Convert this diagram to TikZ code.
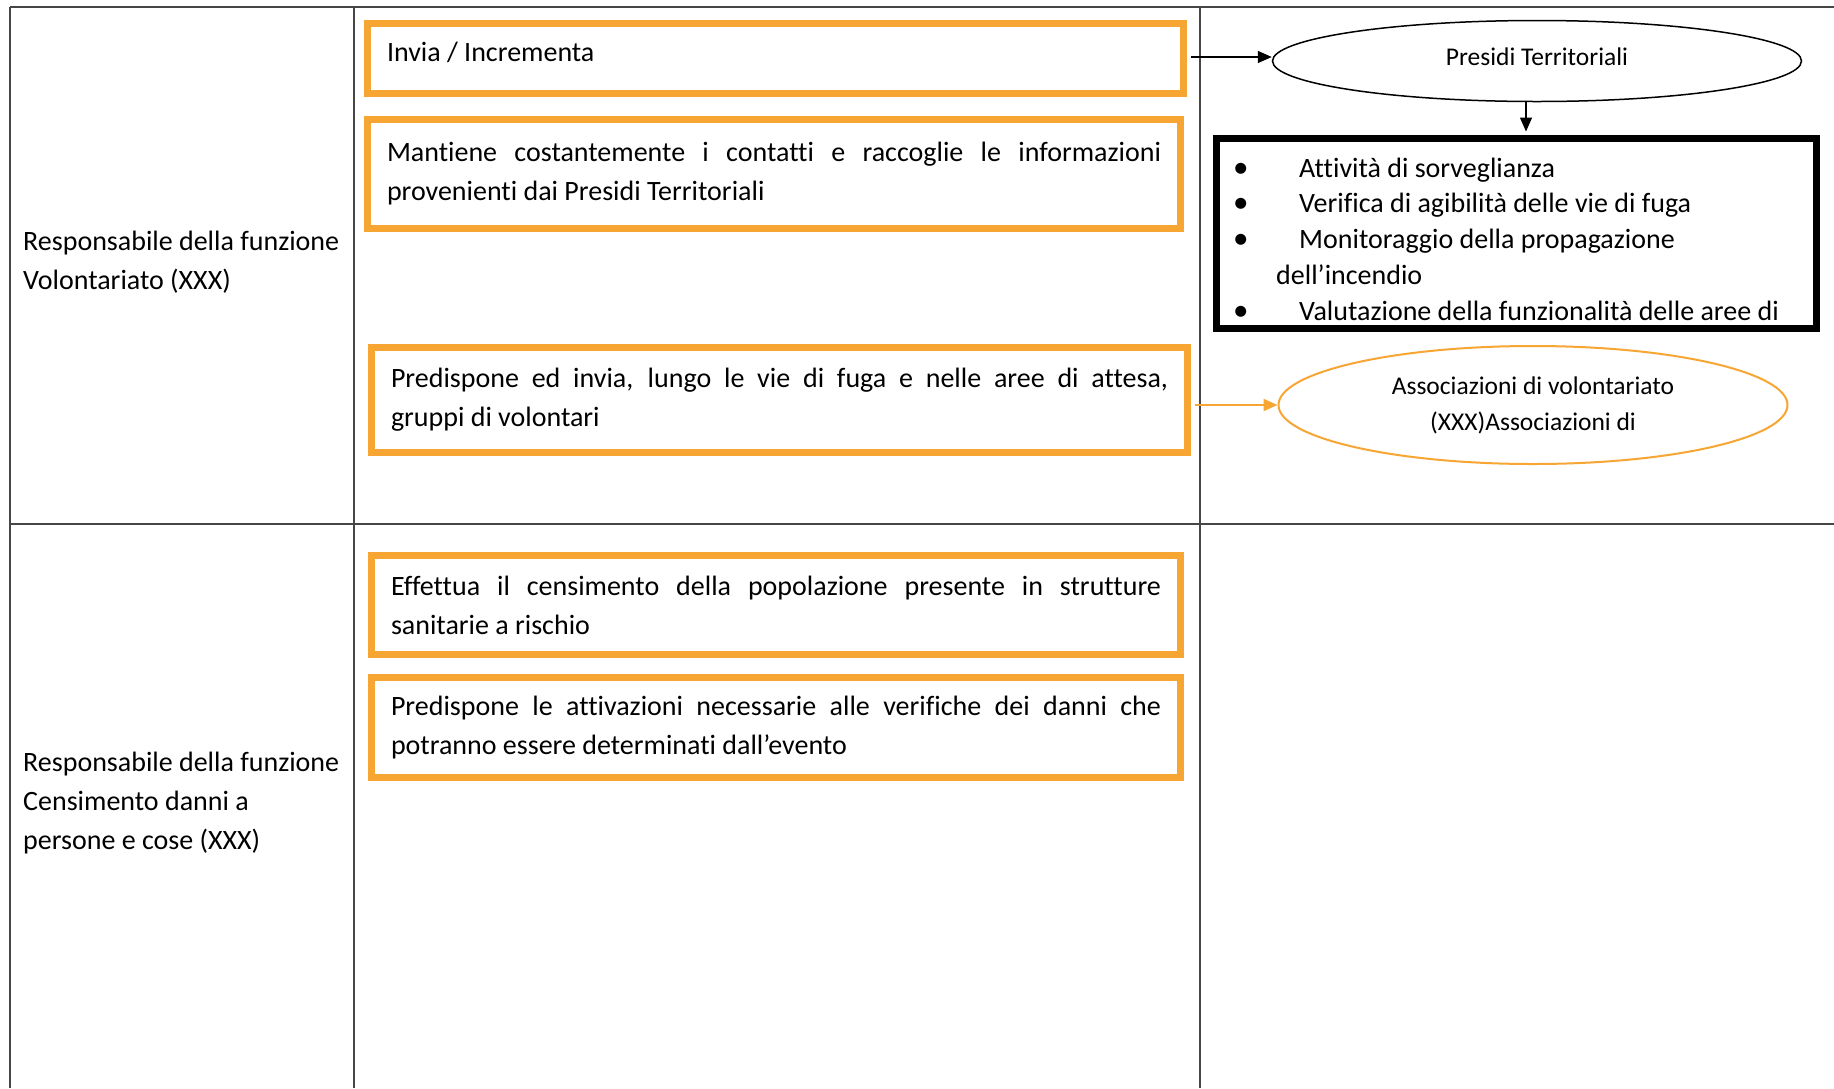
\documentclass[tikz,border=0pt]{standalone}
\usepackage{fontspec}
\setmainfont[Ligatures=NoCommon]{Carlito}
\usetikzlibrary{arrows.meta,shapes.geometric}
\definecolor{boxorange}{RGB}{248,166,51}
\definecolor{gridline}{RGB}{70,70,70}
\newcommand\itemdot{\makebox[63pt][l]{\hspace{-3pt}{\fontsize{31}{31}\selectfont•}}}

\begin{document}
\begin{tikzpicture}[x=1pt,y=-1pt,
  bodytext/.style={font=\fontsize{28}{39}\selectfont},
  taskbox/.style={bodytext, draw=boxorange, line width=7pt, inner xsep=19.5pt,
    inner ysep=0pt, align=justify},
  rolelabel/.style={bodytext, inner sep=0pt, align=left, anchor=west},
  smalltext/.style={font=\fontsize{25.5}{36}\selectfont},
  tablerule/.style={draw=gridline, line width=1.5pt},
  arrowtip/.style={-{Triangle[length=14pt,width=12pt]}}]

% page and table grid
\fill[white] (0,0) rectangle (1834,1088);
\useasboundingbox (0,0) rectangle (1834,1088);
\draw[tablerule] (10,7) -- (1834,7);
\draw[tablerule] (10,524) -- (1834,524);
\draw[tablerule] (10,7) -- (10,1088);
\draw[tablerule] (354,7) -- (354,1088);
\draw[tablerule] (1200,7) -- (1200,1088);

% role column
\node[rolelabel] (role1) at (23,262) {Responsabile della funzione\\Volontariato (XXX)};
\node[rolelabel] (role2) at (23,803) {Responsabile della funzione\\Censimento danni a\\persone e cose (XXX)};

% task boxes
\node[taskbox, text width=777pt, minimum height=70pt] (b1) at (775.5,58.5)
  {\smash{\raisebox{-3pt}{Invia / Incrementa}}};
\node[taskbox, text width=774pt, minimum height=109pt] (b2) at (774,174)
  {Mantiene costantemente i contatti e raccoglie le informazioni\linebreak provenienti dai Presidi Territoriali};
\node[taskbox, text width=777pt, minimum height=105pt] (b3) at (779.5,400)
  {Predispone ed invia, lungo le vie di fuga e nelle aree di attesa,\linebreak gruppi di volontari};
\node[taskbox, text width=770pt, minimum height=99pt] (b4) at (776,605)
  {Effettua il censimento della popolazione presente in strutture\linebreak sanitarie a rischio};
\node[taskbox, text width=770pt, minimum height=100pt] (b5) at (776,727.5)
  {Predispone le attivazioni necessarie alle verifiche dei danni che\linebreak potranno essere determinati dall’evento};

% right column
\node[smalltext, draw=black, line width=1.5pt, ellipse, inner sep=0pt,
  minimum width=529pt, minimum height=81pt, text height=18pt, text depth=9pt]
  (pres) at (1537,61) {Presidi Territoriali};
\node[draw=black, line width=7pt, minimum width=600pt, minimum height=190pt,
  inner sep=0pt] (att) at (1516.5,233.5) {};
\node[bodytext, inner sep=0pt, align=left, anchor=west, font=\fontsize{28}{35.75}\selectfont]
  (attlist) at (1236,239)
  {\itemdot Attività di sorveglianza\\
   \itemdot Verifica di agibilità delle vie di fuga\\
   \itemdot Monitoraggio della propagazione\\
   \hspace*{40pt}dell’incendio\\
   \itemdot Valutazione della funzionalità delle aree di};
\node[smalltext, draw=boxorange, line width=2pt, ellipse, inner sep=0pt, align=center,
  minimum width=509pt, minimum height=118pt]
  (assoc) at (1533,405) {Associazioni di volontariato\\(XXX)Associazioni di};

% connectors
\draw[black, line width=1.5pt, arrowtip] ([xshift=3.5pt]b1.east |- 0,57) -- (pres.west |- 0,57);
\draw[black, line width=1.5pt, arrowtip, shorten >=3.5pt]
  ([xshift=-11pt]pres.south) -- ([xshift=-11pt]pres.south |- att.north);
\draw[boxorange, line width=2pt, arrowtip] ([xshift=3.5pt]b3.east |- assoc.west) -- (assoc.west);
\end{tikzpicture}
\end{document}
